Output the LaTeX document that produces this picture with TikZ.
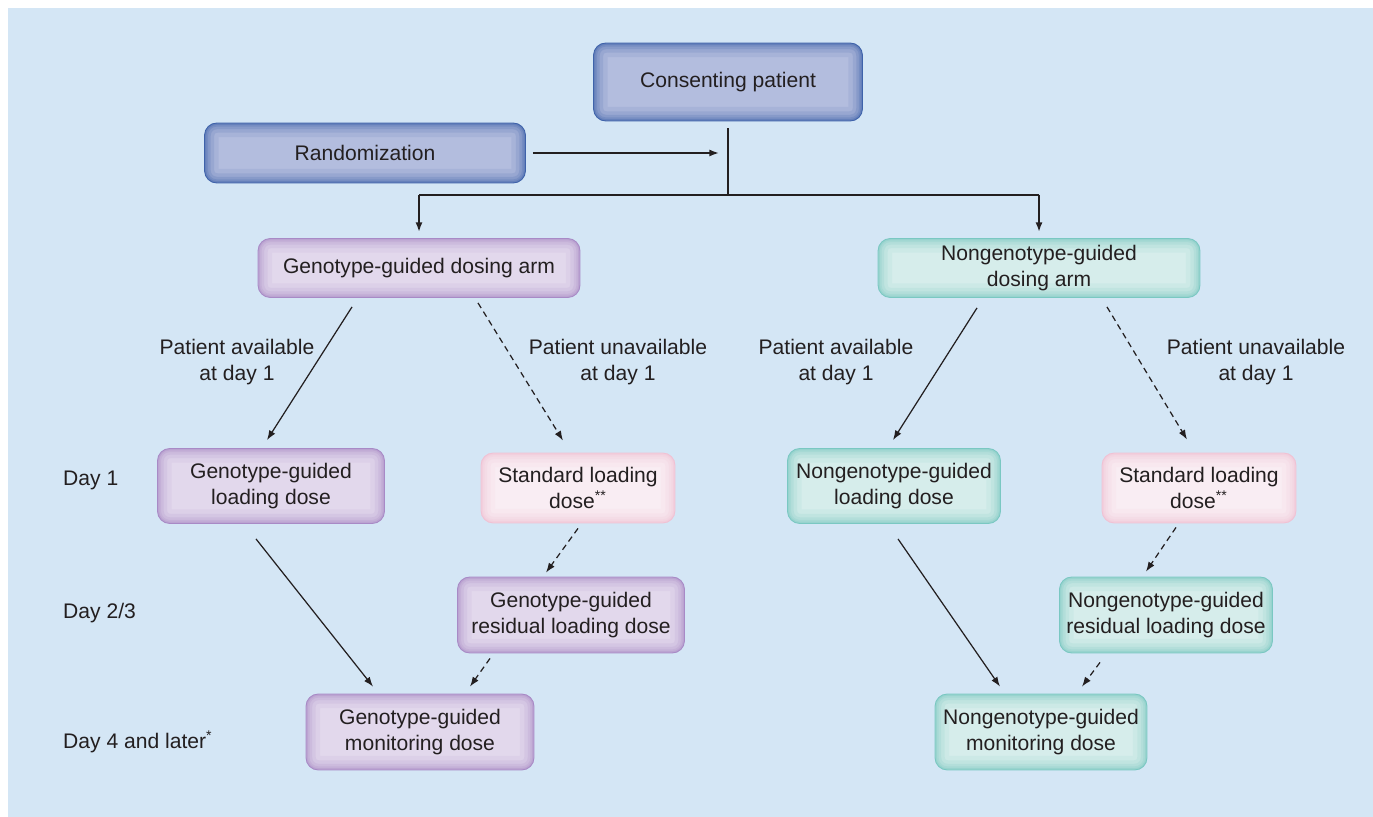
\documentclass[tikz,border=0pt]{standalone}
\usepackage{fontspec}
\setmainfont{Liberation Sans}
\usetikzlibrary{arrows.meta,calc}

\definecolor{panel}{RGB}{212,230,245}
\definecolor{txt}{RGB}{35,31,32}
\definecolor{bluefill}{RGB}{179,189,222}
\definecolor{blueedge}{RGB}{62,98,170}
\definecolor{purpfill}{RGB}{226,216,236}
\definecolor{purpedge}{RGB}{168,138,198}
\definecolor{tealfill}{RGB}{214,237,235}
\definecolor{tealedge}{RGB}{122,200,194}
\definecolor{pinkfill}{RGB}{249,237,243}
\definecolor{pinkedge}{RGB}{240,194,212}

\begin{document}
\begin{tikzpicture}
[x=0.02cm,y=-0.02cm,
 box/.style={rounded corners=7pt, align=center, inner sep=0pt, text=txt,
   font=\fontsize{12}{14.5}\selectfont},
 ring/.style={rounded corners=7pt, line width=#1},
 glow/.style={fill=#1fill, draw=#1edge, line width=0.5pt,
   path picture={
     \foreach \w/\o in {16pt/0.10,11pt/0.14,7pt/0.18,4pt/0.22,2pt/0.3}
       \draw[#1edge, ring=\w, opacity=\o]
         (path picture bounding box.south west) rectangle (path picture bounding box.north east);}},
 lab/.style={align=center, text=txt, font=\fontsize{12}{14.5}\selectfont},
 tree/.style={line width=1.1pt, txt},
 arr/.style={line width=0.7pt, txt, -{Latex[length=5.5pt,width=4pt]}},
 dasharr/.style={arr, dash pattern=on 3.4pt off 2.4pt}]

\useasboundingbox (0,0) rectangle (1373,817);
\fill[panel] (8,8) rectangle (1373,817);

% top
\node[box,glow=blue,minimum width=5.38cm,minimum height=1.56cm] (cons) at (728,82) {Consenting patient};
\node[box,glow=blue,minimum width=6.42cm,minimum height=1.2cm] (rand) at (365,153) {Randomization};

% arms
\node[box,glow=purp,minimum width=6.44cm,minimum height=1.18cm] (garm) at (419,268) {Genotype-guided dosing arm};
\node[box,glow=teal,minimum width=6.44cm,minimum height=1.18cm] (narm) at (1039,268) {Nongenotype-guided\\dosing arm};

% genotype side
\node[box,glow=purp,minimum width=4.54cm,minimum height=1.5cm] (gload) at (271,486) {Genotype-guided\\loading dose};
\node[box,glow=pink,minimum width=3.88cm,minimum height=1.4cm] (gstd) at (578,488) {Standard loading\\dose\textsuperscript{**}};
\node[box,glow=purp,minimum width=4.54cm,minimum height=1.52cm] (gres) at (571,615) {Genotype-guided\\residual loading dose};
\node[box,glow=purp,minimum width=4.56cm,minimum height=1.52cm] (gmon) at (420,732) {Genotype-guided\\monitoring dose};

% nongenotype side
\node[box,glow=teal,minimum width=4.26cm,minimum height=1.5cm] (nload) at (894,486) {Nongenotype-guided\\loading dose};
\node[box,glow=pink,minimum width=3.88cm,minimum height=1.4cm] (nstd) at (1199,488) {Standard loading\\dose\textsuperscript{**}};
\node[box,glow=teal,minimum width=4.26cm,minimum height=1.52cm] (nres) at (1166,615) {Nongenotype-guided\\residual loading dose};
\node[box,glow=teal,minimum width=4.24cm,minimum height=1.52cm] (nmon) at (1041,732) {Nongenotype-guided\\monitoring dose};

% days
\node[lab,anchor=west] (d1) at (57,480) {Day 1};
\node[lab,anchor=west] (d2) at (57,613) {Day 2/3};
\node[lab,anchor=west] (d4) at (57,742) {Day 4 and later\textsuperscript{*}};

% branch labels
\node[lab] (gav) at (237,362) {Patient available\\at day 1};
\node[lab] (gun) at (618,362) {Patient unavailable\\at day 1};
\node[lab] (nav) at (836,362) {Patient available\\at day 1};
\node[lab] (nun) at (1256,362) {Patient unavailable\\at day 1};

% split
\coordinate (split) at (728,195);
\draw[tree,shorten <=0.14cm] (cons.south) -- (split);
\draw[arr,line width=0.9pt,shorten <=0.14cm,shorten >=0.18cm] (rand.east) -- (rand.east -| split);
\draw[tree] (garm.north |- split) -- (narm.north |- split);
\draw[tree,-{Latex[length=5.5pt,width=4pt]},shorten >=0.12cm] (garm.north |- split) -- (garm.north);
\draw[tree,-{Latex[length=5.5pt,width=4pt]},shorten >=0.12cm] (narm.north |- split) -- (narm.north);

\draw[arr] ($(garm.south)+(-67,9)$) -- ($(gload.north)+(-4,-8)$);
\draw[dasharr] ($(garm.south)+(59,5)$) -- ($(gstd.north)+(-15,-12)$);
\draw[arr] ($(gload.south)+(-15,15)$) -- ($(gmon.north)+(-47,-7)$);
\draw[dasharr] ($(gstd.south)+(0,5)$) -- ($(gres.north)+(-25,-4)$);
\draw[dasharr] ($(gres.south)+(-81,5)$) -- ($(gmon.north)+(50,-7)$);

\draw[arr] ($(narm.south)+(-62,10)$) -- ($(nload.north)+(-1,-8)$);
\draw[dasharr] ($(narm.south)+(68,9)$) -- ($(nstd.north)+(-12,-13)$);
\draw[arr] ($(nload.south)+(4,15)$) -- ($(nmon.north)+(-41,-7)$);
\draw[dasharr] ($(nstd.south)+(-23,4)$) -- ($(nres.north)+(-20,-5)$);
\draw[dasharr] ($(nres.south)+(-66,9)$) -- ($(nmon.north)+(41,-7)$);
\end{tikzpicture}
\end{document}
